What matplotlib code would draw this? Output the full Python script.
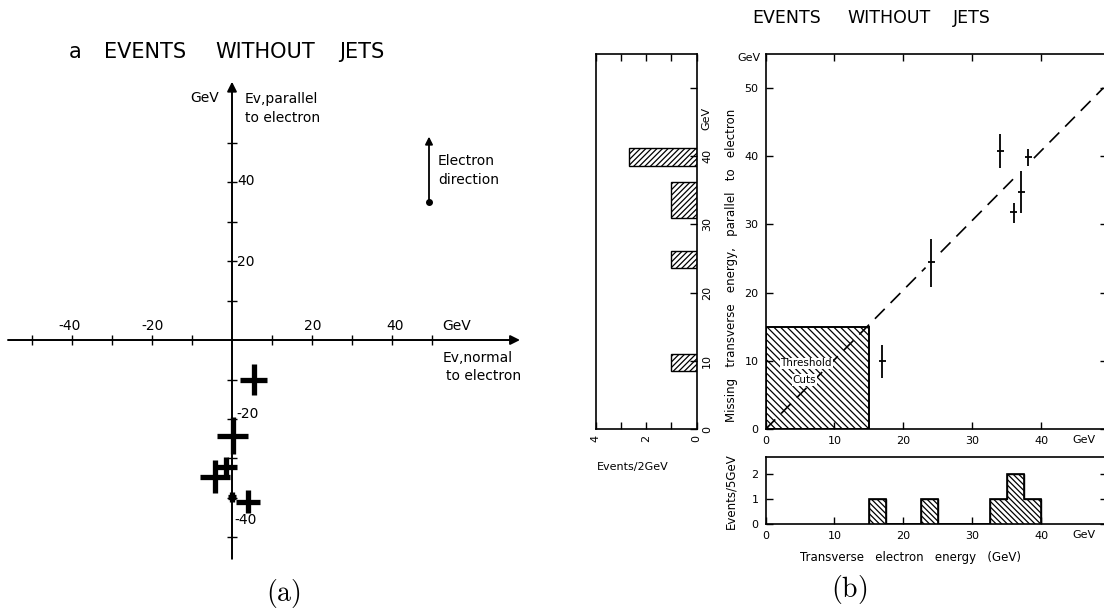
import matplotlib
matplotlib.use('Agg')
import matplotlib.pyplot as plt

plt.rcParams['font.family'] = ['DejaVu Sans']
plt.rcParams['hatch.linewidth'] = 0.9
plt.rcParams['lines.scale_dashes'] = False
plt.rcParams['mathtext.fontset'] = 'cm'

# ---------------- data ----------------
# panel (a): missing energy components (GeV)
a_x = [5.4, 0.2, -1.4, -4.2, 4.1, -0.1]
a_y = [-10.1, -24.2, -32.1, -34.6, -40.9, -39.7]
a_xerr = [3.4, 3.9, 2.7, 3.7, 3.0, 1.0]
a_yerr = [3.9, 4.6, 2.6, 4.2, 2.9, 1.3]
a_ticks_x = [-50, -40, -30, -20, -10, 10, 20, 30, 40, 50]
a_ticks_y = [-50, -40, -30, -20, -10, 10, 20, 30, 40, 50]

# panel (b) main scatter
et = [16.9, 24.0, 34.0, 36.0, 37.1, 38.1]
ev = [10.0, 24.5, 40.8, 31.8, 34.8, 39.8]
ev_lo = [2.5, 3.6, 2.5, 1.6, 3.2, 1.2]
ev_hi = [2.4, 3.4, 2.4, 1.4, 3.0, 1.2]
et_err = [0.5, 0.5, 0.5, 0.5, 0.5, 0.5]
fit_x = [0, 49]
fit_y = [0, 50]
fit_gaps = [(0, 23.2), (25.4, 36.0), (38.9, 49)]
threshold = 15

# left histogram (events / 2 GeV vs missing energy)
l_bottom = [8.5, 23.6, 31.0, 38.6]
l_top = [11.0, 26.1, 36.2, 41.2]
l_count = [1, 1, 1, 2.7]

# bottom histogram (events vs transverse electron energy)
h_edges = [15, 17.5, 20, 22.5, 25, 27.5, 30, 32.5, 35, 37.5, 40]
h_counts = [1, 0, 0, 1, 0, 0, 0, 1, 2, 1]

main_xticks = [0, 10, 20, 30, 40]
main_yticks = [0, 10, 20, 30, 40, 50]

# ---------------- figure ----------------
W, H = 1104, 614
fig = plt.figure(figsize=(W / 100, H / 100), dpi=100)


def ax_at(x0, y0, x1, y1):
    return fig.add_axes([x0 / W, 1 - y1 / H, (x1 - x0) / W, (y1 - y0) / H])


def ftext(x, y, s, **kw):
    kw.setdefault('ha', 'left')
    kw.setdefault('va', 'center')
    return fig.text(x / W, 1 - y / H, s, **kw)


# ================= panel (a) =================
axa = ax_at(0, 60, 545, 575)
axa.set_xlim(-58, 78.25)
axa.set_ylim(-59.5, 70.9)
axa.patch.set_alpha(0)
axa.spines['left'].set_position(('data', 0))
axa.spines['bottom'].set_position(('data', 0))
for s in axa.spines.values():
    s.set_visible(False)
axa.set_xticks(a_ticks_x)
axa.set_xticklabels([])
axa.set_yticks(a_ticks_y)
axa.set_yticklabels([])
axa.tick_params(direction='inout', length=7, width=1.0)

arr = dict(arrowstyle='-|>', color='k', lw=1.4, mutation_scale=14, shrinkA=0, shrinkB=0)
axa.annotate('', xy=(72, 0), xytext=(-56, 0), arrowprops=arr)
axa.annotate('', xy=(0, 65.4), xytext=(0, -55.4), arrowprops=arr)

axa.errorbar(a_x, a_y, xerr=a_xerr, yerr=a_yerr, fmt='none', ecolor='k',
             elinewidth=3.8, capsize=0)

axa.annotate('', xy=(49.25, 51.5), xytext=(49.25, 35),
             arrowprops=dict(arrowstyle='-|>', color='k', lw=1.3, mutation_scale=11,
                             shrinkA=0, shrinkB=0))
axa.plot([49.25], [35], 'o', ms=4, color='k')

fs_a = 10
ftext(69, 52, 'a', fontsize=15)
ftext(104, 52, 'EVENTS', fontsize=15)
ftext(215, 52, 'WITHOUT', fontsize=15)
ftext(339, 52, 'JETS', fontsize=15)

ftext(190, 98, 'GeV', fontsize=fs_a)
ftext(245, 99, 'Ev,parallel', fontsize=fs_a)
ftext(245, 118, 'to electron', fontsize=fs_a)
ftext(438, 161, 'Electron', fontsize=fs_a)
ftext(438, 180, 'direction', fontsize=fs_a)
ftext(237, 181, '40', fontsize=fs_a)
ftext(237, 262, '20', fontsize=fs_a)
ftext(70, 326, '-40', fontsize=fs_a, ha='center')
ftext(153, 326, '-20', fontsize=fs_a, ha='center')
ftext(313, 326, '20', fontsize=fs_a, ha='center')
ftext(395, 326, '40', fontsize=fs_a, ha='center')
ftext(442, 326, 'GeV', fontsize=fs_a)
ftext(443, 358, 'Ev,normal', fontsize=fs_a)
ftext(446, 376, 'to electron', fontsize=fs_a)
ftext(236, 414, '-20', fontsize=fs_a)
ftext(234, 520, '-40', fontsize=fs_a)
ftext(283, 593, r'$\mathrm{(a)}$', fontsize=20, ha='center')

# ================= panel (b) =================
fs_t = 8
ftext(752, 18, 'EVENTS', fontsize=12.5)
ftext(847, 18, 'WITHOUT', fontsize=12.5)
ftext(953, 18, 'JETS', fontsize=12.5)

# left histogram
axl = ax_at(595.7, 54.3, 696.7, 429.3)
axl.set_xlim(4, 0)
axl.set_ylim(0, 54.9)
axl.barh(l_bottom, l_count, height=[t - b for b, t in zip(l_bottom, l_top)],
         align='edge', facecolor='white', edgecolor='k', hatch='//////', lw=1.0)
axl.yaxis.tick_right()
axl.set_yticks(main_yticks)
axl.set_yticklabels(['0', '10', '20', '30', '40', ''], rotation=90, va='center')
axl.set_xticks([0, 1, 2, 3, 4])
axl.set_xticklabels(['0', '', '2', '', '4'], rotation=90)
axl.tick_params(axis='both', direction='in', length=5, width=1.0, labelsize=fs_t)
axl.tick_params(axis='x', top=True, pad=4)
axl.tick_params(axis='y', left=False, right=True, pad=4)
for s in axl.spines.values():
    s.set_linewidth(1.2)
ftext(706, 118, 'GeV', fontsize=fs_t, rotation=90, ha='center')
ftext(597, 467, 'Events/2GeV', fontsize=8)

# main scatter
axm = ax_at(765.5, 54.3, 1107, 429.3)
axm.set_xlim(0, 49.5)
axm.set_ylim(0, 54.9)
axm.bar([0], [threshold], width=threshold, align='edge', facecolor='white',
        edgecolor='k', hatch='\\\\\\\\\\', lw=1.4, zorder=1)
for g0, g1 in fit_gaps:
    sx = [g0, g1]
    sy = [fit_y[0] + (fit_y[1] - fit_y[0]) * (v - fit_x[0]) / (fit_x[1] - fit_x[0]) for v in sx]
    axm.plot(sx, sy, color='k', lw=1.2, dashes=(10, 6), zorder=3)
axm.errorbar(et, ev, xerr=et_err, yerr=[ev_lo, ev_hi], fmt='none', ecolor='k',
             elinewidth=1.3, capsize=0, zorder=4)
axm.text(5.9, 9.65, 'Threshold', fontsize=7.5, ha='center', va='center',
         bbox=dict(facecolor='white', edgecolor='none', pad=0.5), zorder=5)
axm.text(5.6, 7.2, 'Cuts', fontsize=7.5, ha='center', va='center',
         bbox=dict(facecolor='white', edgecolor='none', pad=0.5), zorder=5)
axm.set_xticks(main_xticks)
axm.set_yticks(main_yticks)
axm.tick_params(direction='in', length=5, width=1.0, labelsize=fs_t,
                top=True, right=True, pad=5)
for s in axm.spines.values():
    s.set_linewidth(1.2)
ftext(1072, 440, 'GeV', fontsize=fs_t)
ftext(749, 58, 'GeV', fontsize=fs_t, ha='center')
ftext(731, 265, 'Missing   transverse   energy,   parallel   to   electron',
      fontsize=8.5, rotation=90, ha='center')

# bottom histogram
axh = ax_at(765.5, 456.7, 1107, 524)
axh.set_xlim(0, 49.5)
axh.set_ylim(0, 2.7)
axh.stairs(h_counts, h_edges, fill=True, facecolor='white', edgecolor='k',
           hatch='\\\\\\\\\\\\', lw=1.0, baseline=0)
axh.stairs(h_counts, h_edges, fill=False, color='k', lw=1.2, baseline=0)
axh.set_xticks(main_xticks)
axh.set_yticks([0, 1, 2])
axh.tick_params(direction='in', length=5, width=1.0, labelsize=fs_t,
                right=True, pad=5)
for s in axh.spines.values():
    s.set_linewidth(1.2)
ftext(1072, 535, 'GeV', fontsize=fs_t)
ftext(731, 491, 'Events/5GeV', fontsize=8.5, rotation=90, ha='center')
ftext(910, 557, 'Transverse   electron   energy   (GeV)', fontsize=8.5, ha='center')
ftext(849, 590, r'$\mathrm{(b)}$', fontsize=20, ha='center')

fig.savefig('out.png', dpi=100)
